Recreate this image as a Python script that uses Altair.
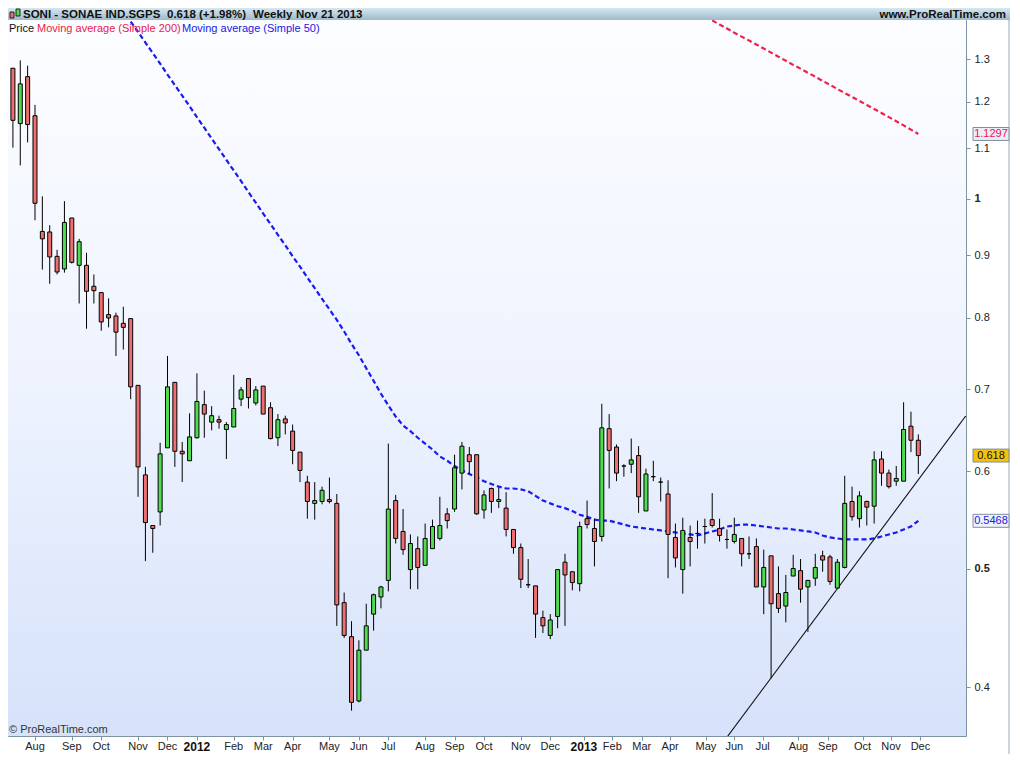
import altair as alt
import pandas as pd

# ---------------- data ----------------
first_week = "2011-07-11"
opens = [1.278, 1.152, 1.258, 1.169, 0.941, 0.940, 0.898, 0.877, 0.965, 0.883,
         0.883, 0.849, 0.839, 0.805, 0.803, 0.792, 0.799, 0.705, 0.596, 0.542,
         0.556, 0.627, 0.709, 0.623, 0.612, 0.639, 0.680, 0.658, 0.661, 0.649,
         0.652, 0.687, 0.714, 0.682, 0.704, 0.676, 0.639, 0.662, 0.647, 0.622,
         0.588, 0.565, 0.567, 0.569, 0.565, 0.469, 0.440, 0.390, 0.429, 0.459,
         0.474, 0.489, 0.568, 0.536, 0.499, 0.519, 0.503, 0.519, 0.529, 0.554,
         0.559, 0.598, 0.619, 0.619, 0.558, 0.581, 0.567, 0.560, 0.538, 0.520,
         0.485, 0.484, 0.456, 0.441, 0.457, 0.506, 0.497, 0.486, 0.549, 0.539,
         0.531, 0.650, 0.628, 0.606, 0.608, 0.618, 0.557, 0.594, 0.588, 0.575,
         0.530, 0.499, 0.530, 0.534, 0.541, 0.548, 0.539, 0.528, 0.526, 0.529,
         0.514, 0.521, 0.483, 0.512, 0.477, 0.466, 0.493, 0.498, 0.483, 0.491,
         0.512, 0.511, 0.482, 0.501, 0.567, 0.549, 0.567, 0.562, 0.614, 0.598,
         0.589, 0.589, 0.653, 0.636]
highs = [1.278, 1.297, 1.284, 1.193, 1.005, 0.952, 0.909, 0.996, 0.965, 0.928,
         0.904, 0.868, 0.839, 0.830, 0.808, 0.817, 0.799, 0.705, 0.605, 0.542,
         0.633, 0.745, 0.709, 0.634, 0.669, 0.721, 0.698, 0.678, 0.666, 0.658,
         0.719, 0.703, 0.714, 0.704, 0.704, 0.683, 0.668, 0.666, 0.655, 0.622,
         0.595, 0.588, 0.583, 0.593, 0.575, 0.478, 0.453, 0.437, 0.468, 0.477,
         0.484, 0.632, 0.574, 0.559, 0.533, 0.531, 0.544, 0.548, 0.572, 0.560,
         0.619, 0.634, 0.628, 0.619, 0.579, 0.582, 0.582, 0.577, 0.538, 0.524,
         0.509, 0.484, 0.462, 0.459, 0.499, 0.514, 0.497, 0.546, 0.568, 0.549,
         0.681, 0.668, 0.631, 0.608, 0.638, 0.629, 0.603, 0.612, 0.593, 0.590,
         0.544, 0.550, 0.542, 0.547, 0.549, 0.576, 0.549, 0.538, 0.550, 0.529,
         0.531, 0.529, 0.518, 0.512, 0.502, 0.494, 0.513, 0.509, 0.489, 0.514,
         0.517, 0.513, 0.509, 0.595, 0.583, 0.578, 0.568, 0.623, 0.623, 0.602,
         0.606, 0.683, 0.671, 0.643]
lows = [1.101, 1.065, 1.112, 0.961, 0.876, 0.853, 0.868, 0.871, 0.886, 0.822,
        0.784, 0.822, 0.781, 0.786, 0.745, 0.754, 0.687, 0.572, 0.507, 0.515,
        0.542, 0.627, 0.605, 0.588, 0.612, 0.638, 0.639, 0.648, 0.650, 0.614,
        0.652, 0.678, 0.675, 0.679, 0.668, 0.637, 0.629, 0.643, 0.608, 0.588,
        0.549, 0.548, 0.564, 0.565, 0.449, 0.439, 0.383, 0.389, 0.429, 0.445,
        0.464, 0.479, 0.524, 0.513, 0.481, 0.481, 0.503, 0.519, 0.527, 0.539,
        0.556, 0.580, 0.597, 0.553, 0.549, 0.555, 0.560, 0.531, 0.514, 0.482,
        0.482, 0.439, 0.443, 0.438, 0.447, 0.449, 0.480, 0.479, 0.539, 0.502,
        0.526, 0.581, 0.589, 0.594, 0.598, 0.555, 0.557, 0.589, 0.567, 0.491,
        0.501, 0.477, 0.502, 0.519, 0.524, 0.540, 0.526, 0.519, 0.524, 0.502,
        0.509, 0.483, 0.459, 0.407, 0.460, 0.452, 0.493, 0.469, 0.444, 0.484,
        0.497, 0.485, 0.482, 0.500, 0.547, 0.540, 0.542, 0.544, 0.584, 0.581,
        0.584, 0.589, 0.622, 0.597]
closes = [1.159, 1.241, 1.150, 0.992, 0.928, 0.897, 0.872, 0.957, 0.888, 0.923,
          0.841, 0.842, 0.794, 0.800, 0.779, 0.786, 0.703, 0.605, 0.545, 0.539,
          0.620, 0.703, 0.623, 0.620, 0.640, 0.684, 0.668, 0.666, 0.658, 0.655,
          0.675, 0.699, 0.689, 0.699, 0.668, 0.638, 0.661, 0.657, 0.624, 0.601,
          0.567, 0.568, 0.579, 0.567, 0.467, 0.441, 0.389, 0.429, 0.449, 0.476,
          0.483, 0.559, 0.529, 0.518, 0.524, 0.501, 0.529, 0.541, 0.542, 0.547,
          0.604, 0.629, 0.611, 0.554, 0.574, 0.567, 0.569, 0.538, 0.520, 0.490,
          0.485, 0.459, 0.449, 0.454, 0.499, 0.494, 0.487, 0.541, 0.543, 0.526,
          0.651, 0.624, 0.598, 0.606, 0.613, 0.572, 0.597, 0.594, 0.588, 0.533,
          0.510, 0.537, 0.526, 0.534, 0.541, 0.542, 0.532, 0.528, 0.533, 0.514,
          0.514, 0.483, 0.501, 0.468, 0.464, 0.478, 0.500, 0.481, 0.489, 0.501,
          0.508, 0.488, 0.506, 0.565, 0.551, 0.573, 0.561, 0.613, 0.598, 0.583,
          0.592, 0.649, 0.636, 0.618]

# Simple moving average 50 (visible from week 17 on)
ma50_start = 16
ma50 = [1.395, 1.368, 1.341, 1.315, 1.289, 1.263, 1.238, 1.214, 1.190, 1.166,
        1.143, 1.120, 1.098, 1.076, 1.055, 1.034, 1.013, 0.993, 0.973, 0.954,
        0.935, 0.917, 0.898, 0.881, 0.863, 0.846, 0.829, 0.813, 0.797, 0.780,
        0.762, 0.746, 0.728, 0.711, 0.694, 0.679, 0.665, 0.654, 0.647, 0.639,
        0.632, 0.625, 0.617, 0.612, 0.606, 0.601, 0.597, 0.593, 0.589, 0.586,
        0.583, 0.581, 0.581, 0.580, 0.578, 0.573, 0.568, 0.565, 0.562, 0.560,
        0.557, 0.553, 0.551, 0.548, 0.547, 0.547, 0.545, 0.543, 0.541, 0.540,
        0.539, 0.538, 0.537, 0.536, 0.535, 0.534, 0.533, 0.532, 0.534, 0.536,
        0.538, 0.541, 0.542, 0.543, 0.543, 0.542, 0.541, 0.540, 0.539, 0.539,
        0.538, 0.537, 0.536, 0.535, 0.532, 0.530, 0.529, 0.528, 0.528, 0.528,
        0.528, 0.529, 0.531, 0.533, 0.535, 0.538, 0.541, 0.5468]
# Simple moving average 200 (visible from week 96 on)
ma200_start = 95
ma200 = [1.398, 1.387, 1.377, 1.366, 1.356, 1.346, 1.336, 1.326, 1.316, 1.306,
         1.296, 1.286, 1.277, 1.267, 1.258, 1.248, 1.239, 1.229, 1.220, 1.211,
         1.202, 1.193, 1.184, 1.175, 1.166, 1.157, 1.148, 1.139, 1.1297]

trend_dates = ["2013-05-14", "2014-01-02"]
trend_values = [0.3586, 0.6655]

tick_dates = ["2011-08-01", "2011-09-05", "2011-10-03", "2011-11-07", "2011-12-05",
              "2012-01-02", "2012-02-06", "2012-03-05", "2012-04-02", "2012-05-07",
              "2012-06-04", "2012-07-02", "2012-08-06", "2012-09-03", "2012-10-01",
              "2012-11-05", "2012-12-03", "2013-01-04", "2013-01-31", "2013-02-28",
              "2013-03-27", "2013-04-30", "2013-05-27", "2013-06-23", "2013-07-27",
              "2013-08-24", "2013-09-26", "2013-10-23", "2013-11-20"]
tick_labels = ["Aug", "Sep", "Oct", "Nov", "Dec", "2012", "Feb", "Mar", "Apr", "May",
               "Jun", "Jul", "Aug", "Sep", "Oct", "Nov", "Dec", "2013", "Feb", "Mar",
               "Apr", "May", "Jun", "Jul", "Aug", "Sep", "Oct", "Nov", "Dec"]
y_ticks = [0.4, 0.5, 0.6, 0.7, 0.8, 0.9, 1.0, 1.1, 1.2, 1.3]

badge_values = [1.1297, 0.618, 0.5468]
badge_texts = ["1.1297", "0.618", "0.5468"]

x_domain = ["2011-07-06 08:00", "2014-01-02 08:00"]
y_domain = [0.3652, 1.399]

# ---------------- build ----------------
W, H = 958, 716
TOP, RIGHT, BOTTOM = 12, 44, 18
FONT = "Liberation Sans"
GRAY = "#7d93a2"

dates = pd.date_range(first_week, periods=len(opens), freq="7D").strftime("%Y-%m-%d")
df = pd.DataFrame({"date": dates, "open": opens, "high": highs, "low": lows, "close": closes})
df["dir"] = ["up" if c > o else ("down" if c < o else "flat") for o, c in zip(opens, closes)]

df50 = pd.DataFrame({"date": dates[ma50_start:ma50_start + len(ma50)], "v": ma50})
df200 = pd.DataFrame({"date": dates[ma200_start:ma200_start + len(ma200)], "v": ma200})
dftr = pd.DataFrame({"date": trend_dates, "v": trend_values})
dft = pd.DataFrame({"date": tick_dates, "label": tick_labels})

def ms(s):
    return int(pd.Timestamp(s).value // 10**6)

xscale = alt.Scale(domain=[ms(x_domain[0]), ms(x_domain[1])], nice=False, padding=0)
xaxis = alt.Axis(values=[ms(d) for d in tick_dates], labels=False, title=None, grid=False,
                 ticks=True, tickSize=4, tickColor=GRAY, domain=False)
yscale = alt.Scale(type="log", domain=y_domain, nice=False, padding=0)
yaxis = alt.Axis(orient="right", values=y_ticks, title=None, grid=False, tickSize=4,
                 tickColor=GRAY, domain=False, labelFontSize=11, labelColor="#222222",
                 labelFont=FONT, labelPadding=4,
                 labelExpr="datum.value == 1 ? '1' : format(datum.value, '.1f')",
                 labelFontWeight={"condition": {"test": "datum.value == 1 || datum.value == 0.5",
                                                "value": "bold"}, "value": "normal"})

def X(f):
    return alt.X(f + ":T", scale=xscale, axis=xaxis)

def Y(f):
    return alt.Y(f + ":Q", scale=yscale, axis=yaxis)

one = pd.DataFrame({"a": [0]})

bg = alt.Chart(one).mark_rect(
    fill=alt.Gradient(gradient="linear", x1=0, x2=0, y1=0, y2=1,
                      stops=[alt.GradientStop(color="#fcfdff", offset=0),
                             alt.GradientStop(color="#eef3fe", offset=0.5),
                             alt.GradientStop(color="#d6e2fa", offset=1)])
).encode(x=alt.value(0), x2=alt.value(W), y=alt.value(0), y2=alt.value(H))

header = alt.Chart(one).mark_rect(
    fill=alt.Gradient(gradient="linear", x1=0, x2=0, y1=0, y2=1,
                      stops=[alt.GradientStop(color="#d6e8f1", offset=0),
                             alt.GradientStop(color="#9ebac9", offset=1)])
).encode(x=alt.value(0), x2=alt.value(W + RIGHT), y=alt.value(-TOP), y2=alt.value(0))

right_edge = alt.Chart(one).mark_rule(color="#9aaab6", strokeWidth=1).encode(
    x=alt.value(W + RIGHT - 1), y=alt.value(0), y2=alt.value(H + BOTTOM))

icon_r = alt.Chart(one).mark_rect(fill="#ee6f6f", stroke="black", strokeWidth=0.8).encode(
    x=alt.value(2), x2=alt.value(6), y=alt.value(-8), y2=alt.value(-2))
icon_g = alt.Chart(one).mark_rect(fill="#4fdc4f", stroke="black", strokeWidth=0.8).encode(
    x=alt.value(8), x2=alt.value(12), y=alt.value(-11), y2=alt.value(-4))

def htext(txt, x, align="left"):
    return alt.Chart(one).mark_text(text=txt, font=FONT, fontSize=11.5, fontWeight="bold",
                                    color="#111111", align=align, baseline="middle").encode(
        x=alt.value(x), y=alt.value(-5.5))

def ltext(txt, x, color):
    return alt.Chart(one).mark_text(text=txt, font=FONT, fontSize=11, color=color,
                                    align="left", baseline="middle").encode(
        x=alt.value(x), y=alt.value(9))

ma200_line = alt.Chart(df200).mark_line(color="#f0204a", strokeWidth=2.2, strokeDash=[5, 3],
                                        clip=True).encode(x=X("date"), y=Y("v"))
ma50_line = alt.Chart(df50).mark_line(color="#1a1aee", strokeWidth=2.2, strokeDash=[5, 3],
                                      clip=True).encode(x=X("date"), y=Y("v"))
trend = alt.Chart(dftr).mark_line(color="#111111", strokeWidth=1.1, clip=True).encode(
    x=X("date"), y=Y("v"))

wicks = alt.Chart(df).mark_rule(color="black", strokeWidth=1).encode(
    x=X("date"), y=Y("low"), y2=alt.Y2("high"))
bodies = alt.Chart(df).mark_bar(size=4, stroke="black", strokeWidth=1).encode(
    x=X("date"), y=Y("open"), y2=alt.Y2("close"),
    color=alt.Color("dir:N", scale=alt.Scale(domain=["up", "down", "flat"],
                                             range=["#4fdc4f", "#ee6f6f", "#000000"]),
                    legend=None))

copyright_t = alt.Chart(one).mark_text(text="© ProRealTime.com", font=FONT, fontSize=11,
                                       color="#333333", align="left", baseline="middle").encode(
    x=alt.value(1), y=alt.value(H - 6))

badge_shape = "M-1,-0.36H1V0.36H-1Z"
badge_styles = [("#e8edf8", "#e8204a"), ("#f4c20d", "#111111"), ("#eef2fb", "#2020e0")]
badges = []
for val, txt, (bgc, fgc) in zip(badge_values, badge_texts, badge_styles):
    bdf = pd.DataFrame({"v": [val], "t": [txt]})
    badges.append(alt.Chart(bdf).mark_point(shape=badge_shape, size=1296, filled=True,
                                            fill=bgc, stroke="#7f8fa0", strokeWidth=1,
                                            opacity=1).encode(
        x=alt.value(W + 25), y=Y("v")))
    badges.append(alt.Chart(bdf).mark_text(font=FONT, fontSize=11, color=fgc,
                                           align="center", baseline="middle").encode(
        x=alt.value(W + 25), y=Y("v"), text="t:N"))

xlab_m = alt.Chart(dft).transform_filter("length(datum.label) != 4").mark_text(
    font=FONT, fontSize=11, color="#222222", baseline="middle").encode(
    x=X("date"), y=alt.value(H + 11), text="label:N")
xlab_y = alt.Chart(dft).transform_filter("length(datum.label) == 4").mark_text(
    font=FONT, fontSize=12, fontWeight="bold", color="#111111", baseline="middle").encode(
    x=X("date"), y=alt.value(H + 11), text="label:N")

chart = alt.layer(
    bg, header, right_edge, icon_r, icon_g,
    htext("SONI - SONAE IND.SGPS", 15), htext("0.618 (+1.98%)", 159),
    htext("Weekly", 245), htext("Nov 21 2013", 288),
    htext("www.ProRealTime.com", W + RIGHT - 4, align="right"),
    ma200_line, ma50_line, trend, wicks, bodies,
    ltext("Price", 1, "#111111"), ltext("Moving average (Simple 200)", 29, "#e8204a"),
    ltext("Moving average (Simple 50)", 174, "#2020e0"),
    copyright_t, *badges, xlab_m, xlab_y
).properties(
    width=W, height=H,
    padding={"left": 0, "top": TOP, "right": RIGHT, "bottom": BOTTOM},
    autosize=alt.AutoSizeParams(type="none")
).configure(background="white", font=FONT).configure_view(stroke=GRAY, strokeWidth=1)

chart.save("out.html", embed_options={"renderer": "svg", "actions": False})
